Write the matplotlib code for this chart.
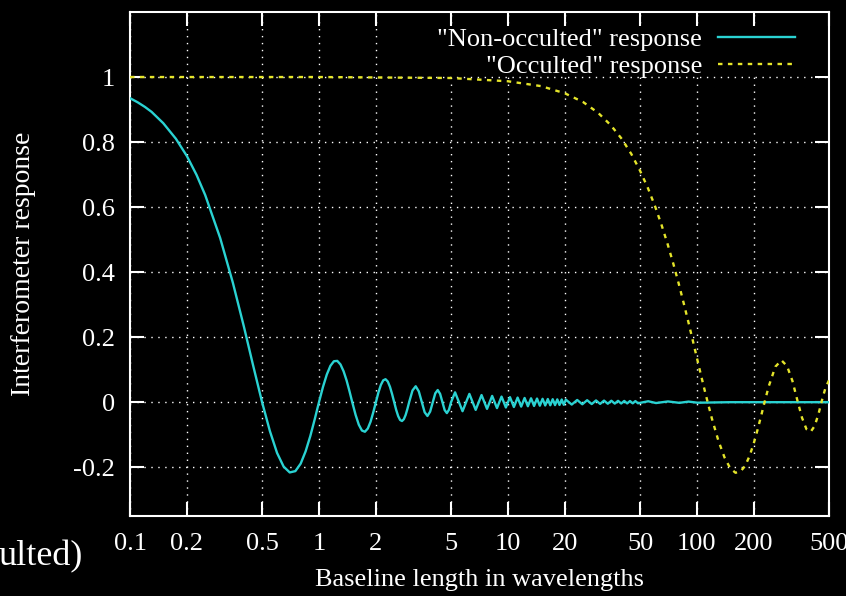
import matplotlib
matplotlib.use("Agg")
import matplotlib.pyplot as plt
from matplotlib.patches import Rectangle
from matplotlib.ticker import FixedLocator, FixedFormatter, NullLocator

plt.rcParams['font.family'] = ['Liberation Serif', 'DejaVu Serif']

# baseline length (wavelengths) and response
nonocc_x = [0.10, 0.11, 0.12, 0.13, 0.15, 0.175, 0.20, 0.225, 0.25, 0.30, 0.35, 0.40, 0.45,
            0.50, 0.55, 0.60, 0.65, 0.70, 0.75, 0.80, 0.85, 0.90, 0.95, 1.00,
            1.05, 1.10, 1.15, 1.20, 1.25, 1.30, 1.35, 1.40, 1.45, 1.50,
            1.5625, 1.625, 1.6875, 1.75, 1.8125, 1.875, 1.9375, 2.0,
            2.0625, 2.125, 2.1875, 2.25, 2.3125, 2.375, 2.4375, 2.5,
            2.5625, 2.625, 2.6875, 2.75, 2.8125, 2.875, 2.9375, 3.0,
            3.125, 3.25, 3.375, 3.5, 3.625, 3.75, 3.875, 4.0,
            4.125, 4.25, 4.375, 4.5, 4.625, 4.75, 4.875, 5.0,
            5.25, 5.75, 6.25, 6.75, 7.25, 7.75, 8.25, 8.75, 9.25, 9.75,
            10.25, 10.75, 11.25, 11.75, 12.25, 12.75, 13.25, 13.75, 14.25, 14.75,
            15.25, 15.75, 16.25, 16.75, 17.25, 17.75, 18.25, 18.75, 19.25, 19.75,
            20.25, 21.75, 23.25, 24.75, 26.25, 27.75, 29.25, 30.75, 32.25, 33.75,
            35.25, 36.75, 38.25, 39.75, 41.25, 42.75, 44.25, 45.75, 47.25, 48.75,
            55.25, 60.75, 70.25, 80.75, 90.25, 100.75, 150.0, 500.0]
nonocc_y = [0.935, 0.922, 0.908, 0.893, 0.858, 0.810, 0.757, 0.699, 0.637, 0.505, 0.368, 0.234, 0.109,
            0.0, -0.089, -0.156, -0.198, -0.216, -0.212, -0.189, -0.151, -0.104, -0.052, 0.0,
            0.047, 0.085, 0.112, 0.126, 0.127, 0.116, 0.095, 0.067, 0.034, 0.0,
            -0.0390, -0.0693, -0.0871, -0.0909, -0.0811, -0.0600, -0.0314, 0.0,
            0.0295, 0.0530, 0.0672, 0.0707, 0.0636, 0.0474, 0.0250, 0.0,
            -0.0238, -0.0429, -0.0547, -0.0579, -0.0523, -0.0391, -0.0207, 0.0,
            0.0360, 0.0490, 0.0333, 0.0, -0.0310, -0.0424, -0.0290, 0.0,
            0.0273, 0.0374, 0.0257, 0.0, -0.0243, -0.0335, -0.0231, 0.0,
            0.0303, -0.0277, 0.0255, -0.0236, 0.0220, -0.0205, 0.0193, -0.0182, 0.0172, -0.0163,
            0.0155, -0.0148, 0.0142, -0.0136, 0.0130, -0.0125, 0.0120, -0.0116, 0.0112, -0.0108,
            0.0104, -0.0101, 0.0098, -0.0095, 0.0092, -0.0090, 0.0087, -0.0085, 0.0083, -0.0081,
            0.0079, -0.0073, 0.0068, -0.0064, 0.0061, -0.0057, 0.0054, -0.0052, 0.0049, -0.0047,
            0.0045, -0.0043, 0.0042, -0.0040, 0.0039, -0.0037, 0.0036, -0.0035, 0.0034, -0.0033,
            0.0029, -0.0026, 0.0023, -0.0020, 0.0018, -0.0016, 0.0, 0.0]

occ_x = [0.1, 1, 5, 10, 15, 20, 25, 30, 35, 40, 45, 50, 55, 60, 65, 70, 75, 80, 85, 90, 95,
         100, 105, 110, 114, 120, 130, 140, 150, 160, 170, 180, 190, 200, 210, 220, 228,
         240, 260, 280, 300, 320, 340, 360, 380, 400, 420, 440, 460, 480, 500]
occ_y = [1.0, 1.0, 0.997, 0.987, 0.972, 0.950, 0.923, 0.890, 0.852, 0.810, 0.763, 0.712,
         0.659, 0.603, 0.545, 0.486, 0.426, 0.366, 0.306, 0.248, 0.191,
         0.136, 0.084, 0.036, 0.0, -0.050, -0.119, -0.170, -0.203, -0.217, -0.213, -0.196,
         -0.165, -0.126, -0.082, -0.036, 0.0,
         0.049, 0.109, 0.129, 0.111, 0.066, 0.006, -0.048, -0.083, -0.091, -0.073, -0.036,
         0.008, 0.046, 0.067]

xticks = [0.1, 0.2, 0.5, 1, 2, 5, 10, 20, 50, 100, 200, 500]
xtick_labels = ["0.1", "0.2", "0.5", "1", "2", "5", "10", "20", "50", "100", "200", "500"]
yticks = [-0.2, 0, 0.2, 0.4, 0.6, 0.8, 1]
ytick_labels = ["-0.2", "0", "0.2", "0.4", "0.6", "0.8", "1"]

cyan = '#2ad2d2'
yellow = '#e4e42a'
fs = 19

fig = plt.figure(figsize=(8.46, 5.96), dpi=100, facecolor='black')
ax = fig.add_axes([130 / 846, 80 / 596, 699 / 846, 504 / 596])
ax.set_facecolor('black')
ax.set_axisbelow(True)

ax.plot(nonocc_x, nonocc_y, color=cyan, lw=1.7, label='"Non-occulted" response', zorder=3)
ax.plot(occ_x, occ_y, color=yellow, lw=1.7, dashes=(1.9, 2.3), label='"Occulted" response', zorder=3)

ax.set_xscale('log')
ax.set_xlim(0.1, 500)
ax.set_ylim(-0.35, 1.2)

ax.xaxis.set_major_locator(FixedLocator(xticks))
ax.xaxis.set_major_formatter(FixedFormatter(xtick_labels))
ax.xaxis.set_minor_locator(NullLocator())
ax.yaxis.set_major_locator(FixedLocator(yticks))
ax.yaxis.set_major_formatter(FixedFormatter(ytick_labels))

ax.tick_params(which='major', direction='in', length=10, width=1.5, color='white',
               labelcolor='white', labelsize=fs, top=True, right=True)
ax.tick_params(axis='x', pad=12)
ax.tick_params(axis='y', pad=11)

for sp in ax.spines.values():
    sp.set_color('white')
    sp.set_linewidth(1.5)

ax.grid(True, color='white', lw=1, linestyle=(0, (1, 4)))

# key area hides the grid underneath it
ax.add_patch(Rectangle((0.4435, 0.873), 0.5565, 0.097, transform=ax.transAxes,
                       facecolor='black', edgecolor='none', zorder=0.7))

fig.text(479 / 846, 1 - 586 / 596, 'Baseline length in wavelengths', color='white',
         fontsize=fs, ha='center', va='baseline')
fig.text(24 / 846, 1 - 264 / 596, 'Interferometer response', color='white',
         fontsize=20, rotation=90, ha='center', va='center')

leg = ax.legend(loc='upper right', bbox_to_anchor=(0.974, 1.0), markerfirst=False,
                fontsize=fs, handlelength=2.92, handletextpad=0.6, labelspacing=0.12,
                borderpad=0.6, borderaxespad=0.0, frameon=False)
leg.set_zorder(5)
for t in leg.get_texts():
    t.set_color('white')

fig.text(83 / 846, 1 - 565 / 596, 'ulted)', color='white', fontsize=26, ha='right', va='baseline')

fig.savefig('out.png', dpi=100, facecolor='black')
